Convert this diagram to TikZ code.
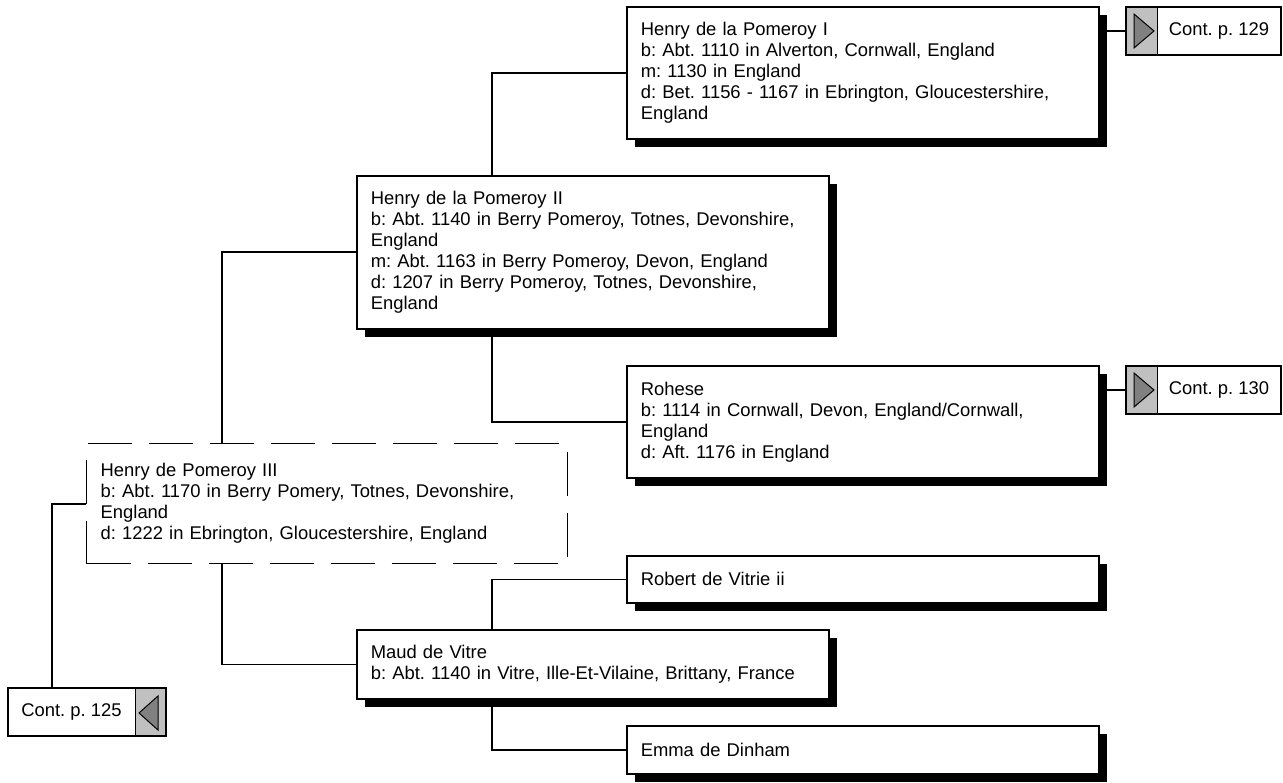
\documentclass[tikz,border=0pt]{standalone}
\usepackage{fontspec}
\setmainfont{Liberation Sans}
\usetikzlibrary{shadows}
\frenchspacing

\begin{document}
\begin{tikzpicture}[x=1pt,y=-1pt,
    person/.style={draw, line width=1.6pt, fill=white, anchor=north west,
        text width=444pt, inner xsep=14pt, inner ysep=0pt, align=left,
        font=\fontsize{18.4}{21}\selectfont,
        drop shadow={shadow xshift=8pt, shadow yshift=-8pt, opacity=1, fill=black}},
    ghost/.style={draw, line width=1.4pt, dash pattern=on 44pt off 17pt, anchor=north west,
        text width=453pt, inner xsep=14pt, inner ysep=0pt, align=left,
        font=\fontsize{18.4}{21}\selectfont},
    contbox/.style={draw, line width=2pt, fill=white, anchor=north west,
        minimum width=155pt, minimum height=48pt, inner sep=0pt,
        font=\fontsize{18.4}{21}\selectfont},
    contright/.style={contbox, path picture={
        \fill[contgray] (path picture bounding box.north west) rectangle ([xshift=31pt]path picture bounding box.south west);
        \draw[line width=1pt] ([xshift=31pt]path picture bounding box.north west) -- ([xshift=31pt]path picture bounding box.south west);
        \filldraw[fill=arrowgray, line width=1pt] ([shift={(8pt,-7pt)}]path picture bounding box.north west)
            -- ([shift={(28pt,-24pt)}]path picture bounding box.north west)
            -- ([shift={(8pt,-41pt)}]path picture bounding box.north west) -- cycle;}},
    contleft/.style={contbox, path picture={
        \fill[contgray] ([xshift=-31pt]path picture bounding box.north east) rectangle (path picture bounding box.south east);
        \draw[line width=1pt] ([xshift=-31pt]path picture bounding box.north east) -- ([xshift=-31pt]path picture bounding box.south east);
        \filldraw[fill=arrowgray, line width=1pt] ([shift={(-8pt,-8pt)}]path picture bounding box.north east)
            -- ([shift={(-27pt,-25pt)}]path picture bounding box.north east)
            -- ([shift={(-8pt,-42pt)}]path picture bounding box.north east) -- cycle;}},
    link/.style={line width=1.6pt}]

    % Define colors
    \definecolor{contgray}{RGB}{192,192,192}
    \definecolor{arrowgray}{RGB}{128,128,128}

    \useasboundingbox (0,0) rectangle (1283,783);

    % Father's side
    \node[person, minimum height=132pt] (henryI) at (626,6)
        {Henry de la Pomeroy I\\
         b: Abt. 1110 in Alverton, Cornwall, England\\
         m: 1130 in England\\
         d: Bet. 1156 - 1167 in Ebrington, Gloucestershire,\\
         England};
    \node[person, minimum height=153pt] (henryII) at (356,175)
        {Henry de la Pomeroy II\\
         b: Abt. 1140 in Berry Pomeroy, Totnes, Devonshire,\\
         England\\
         m: Abt. 1163 in Berry Pomeroy, Devon, England\\
         d: 1207 in Berry Pomeroy, Totnes, Devonshire,\\
         England};
    \node[person, minimum height=112pt] (rohese) at (626,365)
        {Rohese\\
         b: 1114 in Cornwall, Devon, England/Cornwall,\\
         England\\
         d: Aft. 1176 in England};

    %-------------
    % Root person
    \node[ghost, minimum height=120pt] (henryIII) at (86,443)
        {Henry de Pomeroy III\\
         b: Abt. 1170 in Berry Pomery, Totnes, Devonshire,\\
         England\\
         d: 1222 in Ebrington, Gloucestershire, England};

    %-------------
    % Mother's side
    \node[person, minimum height=47pt] (robert) at (626,555) {Robert de Vitrie ii};
    \node[person, minimum height=69pt] (maud) at (356,629)
        {Maud de Vitre\\
         b: Abt. 1140 in Vitre, Ille-Et-Vilaine, Brittany, France};
    \node[person, minimum height=48pt] (emma) at (626,725) {Emma de Dinham};

    %-------------
    % Continued on other pages
    \node[contright] (cont129) at (1125,6) {\hspace*{31pt}Cont. p. 129};
    \node[contright] (cont130) at (1125,365) {\hspace*{31pt}Cont. p. 130};
    \node[contleft, minimum width=158pt] (cont125) at (7,687) {Cont. p. 125\hspace*{31pt}};

    %-------------
    % Links
    \draw[link] (henryI.west) -| ([xshift=136pt]henryII.north west);
    \draw[link] ([xshift=136pt]henryII.south west) |- (rohese.west);
    \draw[link] (henryII.west) -| ([xshift=136pt]henryIII.north west);
    \draw[link] ([xshift=136pt]henryIII.south west) |- (maud.west);
    \draw[link] ([xshift=136pt]maud.north west) |- (robert.west);
    \draw[link] ([xshift=136pt]maud.south west) |- (emma.west);
    \draw[link] (henryIII.west) -| ([xshift=45pt]cont125.north west);
    \draw[link] (henryI.east |- cont129.west) -- (cont129.west);
    \draw[link] (rohese.east |- cont130.west) -- (cont130.west);

\end{tikzpicture}
\end{document}
